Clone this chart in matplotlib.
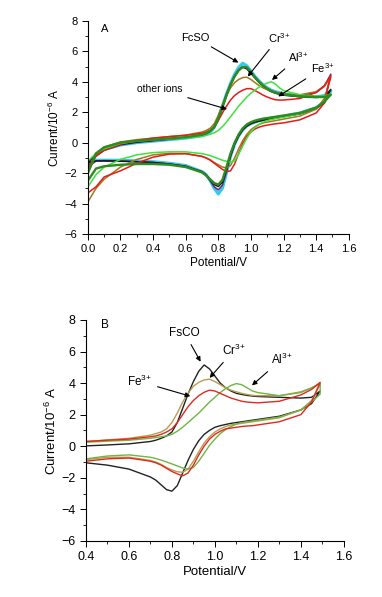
import numpy as np
import matplotlib.pyplot as plt

plt.rcParams['font.family'] = ['Liberation Sans', 'DejaVu Sans']
plt.rcParams['mathtext.default'] = 'regular'

# ---------------- potentials (V) ----------------
E_A = [0.0, 0.05, 0.1, 0.2, 0.3, 0.4, 0.5, 0.6,
       0.7, 0.725, 0.75, 0.775, 0.8, 0.825, 0.85, 0.875, 0.9, 0.925, 0.95, 0.975,
       1.0, 1.025, 1.05, 1.075, 1.1, 1.125, 1.15, 1.175, 1.2,
       1.3, 1.4, 1.45, 1.49]
E_B = E_A[5:]

# ---------------- panel A currents (1e-6 A), forward / reverse ----------------
cyan_f = [-1.4, -0.8, -0.45, -0.15, 0.0, 0.1, 0.2, 0.3,
          0.45, 0.55, 0.7, 1.0, 1.6, 2.4, 3.2, 3.9, 4.5, 4.95, 5.22, 5.05,
          4.7, 4.35, 4.05, 3.8, 3.6, 3.45, 3.35, 3.28, 3.22,
          3.05, 3.0, 3.1, 3.4]
cyan_r = [-1.5, -1.15, -1.15, -1.15, -1.2, -1.25, -1.35, -1.5,
          -1.9, -2.1, -2.5, -3.0, -3.37, -3.0, -2.0, -0.9, -0.1, 0.45, 0.85, 1.1,
          1.25, 1.35, 1.45, 1.5, 1.55, 1.6, 1.65, 1.7, 1.75,
          1.95, 2.3, 2.65, 3.4]

purple_f = [-1.6, -0.85, -0.5, -0.15, 0.02, 0.12, 0.22, 0.32,
            0.5, 0.6, 0.75, 1.05, 1.65, 2.4, 3.2, 3.85, 4.4, 4.8, 5.0, 4.9,
            4.6, 4.3, 4.0, 3.75, 3.55, 3.4, 3.3, 3.22, 3.17,
            3.1, 3.3, 3.7, 4.5]
purple_r = [-1.6, -1.2, -1.18, -1.2, -1.25, -1.3, -1.4, -1.55,
            -1.95, -2.15, -2.5, -2.9, -3.1, -2.8, -1.9, -0.9, -0.1, 0.45, 0.85, 1.1,
            1.25, 1.35, 1.42, 1.48, 1.53, 1.57, 1.62, 1.67, 1.72,
            1.9, 2.25, 2.7, 4.5]

black_f = [-1.3, -0.75, -0.4, -0.1, 0.05, 0.15, 0.25, 0.35,
           0.5, 0.6, 0.75, 1.0, 1.55, 2.3, 3.1, 3.8, 4.35, 4.75, 4.95, 4.85,
           4.55, 4.25, 3.95, 3.7, 3.5, 3.35, 3.25, 3.18, 3.12,
           3.02, 2.98, 3.0, 3.5]
black_r = [-1.3, -1.2, -1.2, -1.22, -1.25, -1.3, -1.4, -1.55,
           -1.9, -2.1, -2.4, -2.75, -2.88, -2.6, -1.8, -0.85, -0.1, 0.45, 0.85, 1.1,
           1.25, 1.35, 1.42, 1.48, 1.53, 1.57, 1.62, 1.67, 1.72,
           1.9, 2.25, 2.65, 3.5]

dgreen_f = [-2.0, -0.7, -0.3, 0.0, 0.12, 0.2, 0.28, 0.36,
            0.52, 0.62, 0.78, 1.05, 1.6, 2.35, 3.1, 3.8, 4.35, 4.75, 4.98, 4.95,
            4.65, 4.3, 4.0, 3.75, 3.55, 3.4, 3.3, 3.22, 3.17,
            3.05, 3.0, 3.0, 3.15]
dgreen_r = [-2.5, -1.7, -1.55, -1.45, -1.4, -1.4, -1.45, -1.6,
            -1.95, -2.15, -2.4, -2.65, -2.75, -2.45, -1.6, -0.7, 0.0, 0.55, 0.95, 1.2,
            1.35, 1.45, 1.52, 1.58, 1.62, 1.66, 1.7, 1.74, 1.78,
            1.95, 2.3, 2.7, 3.15]

olive_f = [-2.0, -0.8, -0.3, 0.05, 0.2, 0.3, 0.4, 0.5,
           0.7, 0.8, 0.95, 1.25, 1.8, 2.5, 3.1, 3.6, 3.95, 4.15, 4.28, 4.3,
           4.15, 3.95, 3.75, 3.6, 3.48, 3.38, 3.3, 3.25, 3.2,
           3.15, 3.35, 3.7, 4.3]
olive_r = [-3.9, -3.0, -2.4, -1.6, -1.1, -0.8, -0.7, -0.72,
           -0.9, -1.0, -1.12, -1.3, -1.45, -1.6, -1.65, -1.5, -1.0, -0.4, 0.15, 0.55,
           0.85, 1.05, 1.2, 1.3, 1.35, 1.4, 1.45, 1.5, 1.55,
           1.75, 2.2, 2.9, 4.3]

red_f = [-1.6, -0.9, -0.5, -0.1, 0.15, 0.3, 0.4, 0.48,
         0.62, 0.7, 0.82, 1.05, 1.45, 1.95, 2.4, 2.8, 3.1, 3.3, 3.45, 3.55,
         3.55, 3.42, 3.28, 3.12, 3.0, 2.9, 2.82, 2.8, 2.8,
         2.9, 3.3, 3.75, 4.4]
red_r = [-3.3, -2.9, -2.25, -1.85, -1.35, -0.95, -0.75, -0.72,
         -0.9, -1.0, -1.15, -1.35, -1.55, -1.75, -1.9, -1.85, -1.4, -0.7, -0.05, 0.4,
         0.7, 0.9, 1.02, 1.1, 1.15, 1.2, 1.24, 1.27, 1.3,
         1.5, 1.95, 2.6, 4.4]

lgreen_f = [-1.2, -0.7, -0.4, -0.05, 0.1, 0.18, 0.24, 0.3,
            0.42, 0.48, 0.55, 0.65, 0.8, 1.05, 1.35, 1.7, 2.05, 2.4, 2.7, 3.0,
            3.25, 3.45, 3.65, 3.8, 3.92, 4.0, 3.85, 3.6, 3.42,
            3.15, 3.05, 3.05, 3.2]
lgreen_r = [-2.9, -2.1, -1.6, -1.1, -0.8, -0.65, -0.6, -0.6,
            -0.72, -0.78, -0.85, -0.95, -1.05, -1.15, -1.22, -1.28, -1.2, -0.75, -0.2, 0.3,
            0.7, 1.0, 1.2, 1.35, 1.45, 1.52, 1.58, 1.63, 1.68,
            1.9, 2.3, 2.75, 3.2]

# ---------------- panel B currents ----------------
blackB_f = [0.02, 0.08, 0.15,
            0.3, 0.38, 0.5, 0.65, 0.9, 1.5, 2.4, 3.3, 4.1, 4.75, 5.15, 4.9,
            4.45, 4.0, 3.7, 3.5, 3.35, 3.28, 3.22, 3.18, 3.15,
            3.1, 3.05, 3.1, 3.5]
blackB_r = [-1.05, -1.2, -1.45,
            -1.95, -2.15, -2.45, -2.75, -2.85, -2.5, -1.7, -0.9, -0.2, 0.35, 0.75, 1.0,
            1.2, 1.3, 1.38, 1.45, 1.5, 1.55, 1.6, 1.65, 1.7,
            1.9, 2.3, 2.7, 3.5]

redB_f = [0.3, 0.38, 0.45,
          0.6, 0.65, 0.75, 0.9, 1.1, 1.5, 2.0, 2.5, 2.9, 3.2, 3.42, 3.55,
          3.5, 3.35, 3.2, 3.05, 2.95, 2.85, 2.8, 2.77, 2.75,
          2.85, 3.25, 3.6, 4.05]
redB_r = [-0.95, -0.8, -0.75,
          -0.95, -1.05, -1.2, -1.4, -1.6, -1.75, -1.88, -1.7, -1.2, -0.55, 0.0, 0.45,
          0.75, 0.95, 1.1, 1.15, 1.2, 1.25, 1.28, 1.3, 1.35,
          1.55, 2.0, 2.8, 4.05]

oliveB_f = [0.3, 0.4, 0.5,
            0.7, 0.8, 0.9, 1.1, 1.5, 2.1, 2.8, 3.35, 3.8, 4.05, 4.2, 4.25,
            4.1, 3.9, 3.7, 3.55, 3.45, 3.35, 3.28, 3.22, 3.2,
            3.2, 3.45, 3.7, 3.95]
oliveB_r = [-0.85, -0.7, -0.7,
            -0.9, -1.0, -1.15, -1.35, -1.5, -1.62, -1.65, -1.45, -0.95, -0.35, 0.2, 0.6,
            0.9, 1.1, 1.25, 1.35, 1.4, 1.45, 1.5, 1.55, 1.6,
            1.8, 2.3, 2.9, 3.9]

greenB_f = [0.25, 0.32, 0.38,
            0.5, 0.55, 0.6, 0.65, 0.75, 0.95, 1.2, 1.5, 1.8, 2.1, 2.45, 2.8,
            3.1, 3.4, 3.65, 3.85, 3.97, 3.9, 3.7, 3.5, 3.4,
            3.2, 3.4, 3.7, 4.0]
greenB_r = [-0.8, -0.62, -0.55,
            -0.7, -0.78, -0.88, -1.0, -1.12, -1.25, -1.38, -1.45, -1.35, -0.95, -0.45, 0.05,
            0.45, 0.8, 1.05, 1.25, 1.4, 1.5, 1.55, 1.6, 1.65,
            1.85, 2.3, 2.8, 3.3]


def loop(E, fwd, rev):
    x = list(E) + list(E[::-1])
    y = list(fwd) + list(rev[::-1])
    return x + [x[0]], y + [y[0]]


def style_axes(ax, xmin, fs):
    ax.spines['top'].set_visible(False)
    ax.spines['right'].set_visible(False)
    ax.set_xlim(xmin, 1.6)
    ax.set_ylim(-6, 8)
    ax.set_xticks(np.arange(xmin, 1.61, 0.2))
    ax.set_xticks(np.arange(xmin + 0.1, 1.6, 0.2), minor=True)
    ax.set_yticks(np.arange(-6, 9, 2))
    ax.set_yticks(np.arange(-5, 8, 2), minor=True)
    ax.xaxis.set_major_formatter(plt.FormatStrFormatter('%.1f'))
    ax.tick_params(which='major', direction='out', length=4, width=0.7, labelsize=fs)
    ax.tick_params(which='minor', direction='out', length=2, width=0.6)
    for s in ['left', 'bottom']:
        ax.spines[s].set_linewidth(0.8)
    ax.set_xlabel('Potential/V', fontsize=fs + 0.5, labelpad=2)
    ax.set_ylabel('Current/10$^{-6}$ A', fontsize=fs + 0.5, labelpad=2)


arrow = dict(arrowstyle='-|>', color='k', lw=0.8, mutation_scale=7)

fig = plt.figure(figsize=(3.82, 5.97), dpi=100)
axA = fig.add_axes([0.230, 0.608, 0.683, 0.357])
axB = fig.add_axes([0.225, 0.094, 0.675, 0.370])

# ---- panel A ----
curvesA = [(cyan_f, cyan_r, '#35c8f0', 2.2),
           (purple_f, purple_r, '#6a2470', 1.1),
           (black_f, black_r, '#1a1a1a', 1.1),
           (olive_f, olive_r, '#a07a1c', 1.1),
           (red_f, red_r, '#e81a1a', 1.1),
           (lgreen_f, lgreen_r, '#3ee23e', 1.1),
           (dgreen_f, dgreen_r, '#2e8c1e', 1.7)]
for f, r, c, lw in curvesA:
    x, y = loop(E_A, f, r)
    axA.plot(x, y, color=c, lw=lw)
style_axes(axA, 0.0, 8)

axA.text(0.08, 7.3, 'A', fontsize=8)
axA.annotate('FcSO', xy=(0.938, 5.17), xytext=(0.66, 6.9), fontsize=8,
             ha='center', va='center', arrowprops=arrow)
axA.annotate('Cr$^{3{+}}$', xy=(0.97, 4.2), xytext=(1.17, 6.9), fontsize=8,
             ha='center', va='center', arrowprops=arrow)
axA.annotate('Al$^{3{+}}$', xy=(1.116, 4.0), xytext=(1.29, 5.6), fontsize=8,
             ha='center', va='center', arrowprops=arrow)
axA.annotate('Fe$^{3{+}}$', xy=(1.153, 2.94), xytext=(1.44, 4.9), fontsize=8,
             ha='center', va='center', arrowprops=arrow)
axA.annotate('other ions', xy=(0.87, 2.15), xytext=(0.44, 3.5), fontsize=7.5,
             ha='center', va='center', arrowprops=arrow)

# ---- panel B ----
curvesB = [(blackB_f, blackB_r, '#222222'),
           (oliveB_f, oliveB_r, '#b89c50'),
           (greenB_f, greenB_r, '#72b443'),
           (redB_f, redB_r, '#e02a20')]
for f, r, c in curvesB:
    x, y = loop(E_B, f, r)
    axB.plot(x, y, color=c, lw=1.0)
style_axes(axB, 0.4, 9)

axB.text(0.47, 7.5, 'B', fontsize=8.5)
axB.annotate('FsCO', xy=(0.94, 5.2), xytext=(0.86, 7.15), fontsize=8.5,
             ha='center', va='center', arrowprops=arrow)
axB.annotate('Cr$^{3{+}}$', xy=(0.967, 4.2), xytext=(1.09, 6.1), fontsize=8.5,
             ha='center', va='center', arrowprops=arrow)
axB.annotate('Al$^{3{+}}$', xy=(1.163, 3.74), xytext=(1.31, 5.5), fontsize=8.5,
             ha='center', va='center', arrowprops=arrow)
axB.annotate('Fe$^{3{+}}$', xy=(0.898, 3.12), xytext=(0.65, 4.1), fontsize=8.5,
             ha='center', va='center', arrowprops=arrow)

fig.savefig('out.png', dpi=100)
